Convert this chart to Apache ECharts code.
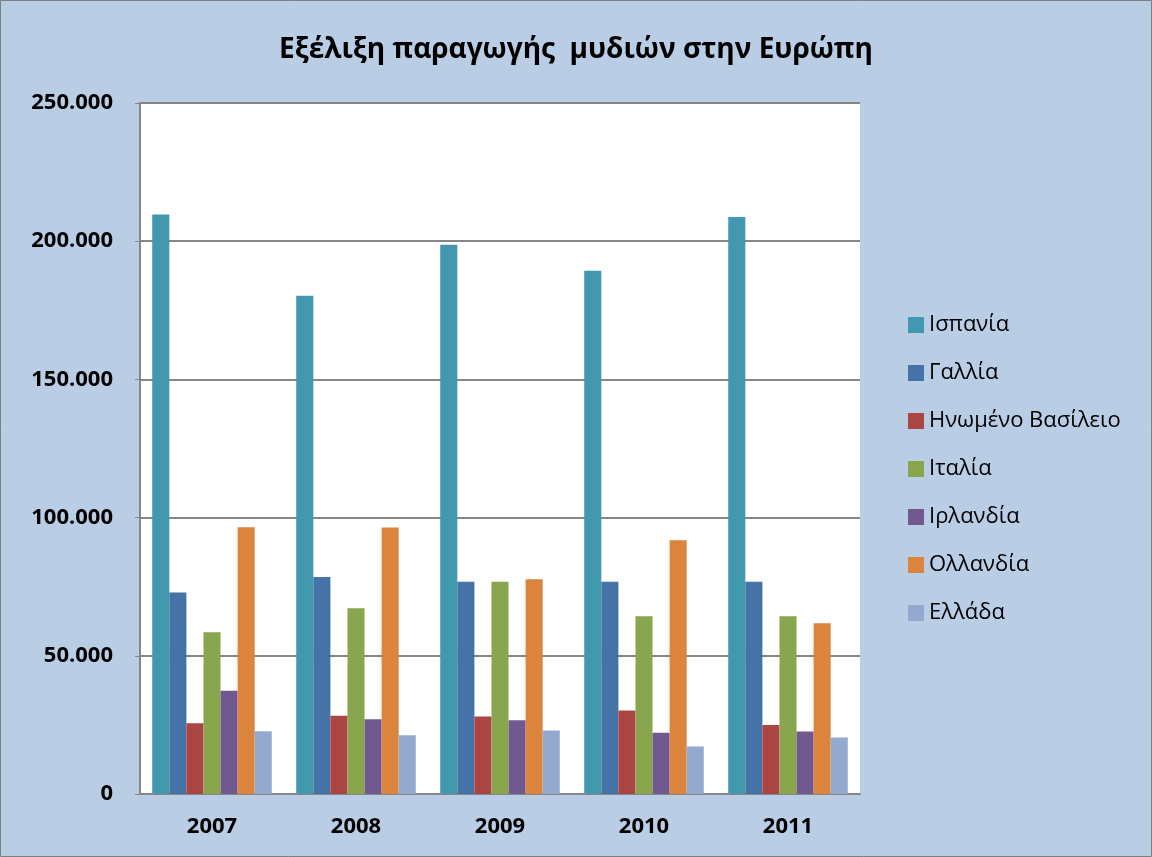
<!DOCTYPE html>
<html>
<head>
<meta charset="utf-8">
<script src="https://cdn.jsdelivr.net/npm/echarts@6/dist/echarts.min.js"></script>
<style>
  html, body { margin: 0; padding: 0; background: #b9cde5; }
  #chart { width: 1152px; height: 857px; }
</style>
</head>
<body>
<div id="chart"></div>
<script>
const years = ['2007', '2008', '2009', '2010', '2011'];
const countries = ['Ισπανία', 'Γαλλία', 'Ηνωμένο Βασίλειο', 'Ιταλία', 'Ιρλανδία', 'Ολλανδία', 'Ελλάδα'];
const spain = [209700, 180300, 198700, 189300, 208800];
const france = [72900, 78500, 76800, 76800, 76800];
const uk = [25600, 28300, 28000, 30200, 25000];
const italy = [58500, 67200, 76800, 64300, 64300];
const ireland = [37400, 27000, 26700, 22200, 22600];
const netherlands = [96500, 96400, 77700, 91800, 61800];
const greece = [22700, 21300, 23000, 17200, 20400];
const colors = ['#4198af', '#4573a7', '#aa4644', '#89a54e', '#71588f', '#db843d', '#93a9cf'];

document.addEventListener('DOMContentLoaded', () => {
    const chart = echarts.init(document.getElementById('chart'));
    const seriesData = [spain, france, uk, italy, ireland, netherlands, greece];
    const font = '"Open Sans", sans-serif';

    // greek style thousands: 250.000
    const fmt = (v) => v === 0 ? '0' : v.toString().replace(/\B(?=(\d{3})+(?!\d))/g, '.');

    const option = {
        backgroundColor: '#b9cde5',
        color: colors,
        textStyle: { fontFamily: font },
        title: {
            text: 'Εξέλιξη παραγωγής  μυδιών στην Ευρώπη',
            left: 'center',
            top: 31,
            textStyle: { fontSize: 28, fontWeight: 'bold', color: '#000', fontFamily: font }
        },
        legend: {
            orient: 'vertical',
            left: 903,
            top: 308,
            itemWidth: 16,
            itemHeight: 16,
            itemGap: 24,
            icon: 'rect',
            textStyle: { fontSize: 22, color: '#000', lineHeight: 24, fontFamily: font }
        },
        grid: {
            left: 140,
            right: 292,
            top: 103,
            bottom: 63,
            show: true,
            backgroundColor: '#ffffff',
            borderWidth: 0
        },
        xAxis: {
            type: 'category',
            data: years,
            axisLine: { lineStyle: { color: '#868686', width: 2 } },
            axisTick: { show: false },
            axisLabel: { fontSize: 22, fontWeight: 'bold', color: '#000', margin: 22 }
        },
        yAxis: {
            type: 'value',
            min: 0,
            max: 250000,
            interval: 50000,
            axisLine: { show: true, lineStyle: { color: '#868686', width: 2 } },
            axisTick: { show: true, length: 5, lineStyle: { color: '#868686' } },
            splitLine: { lineStyle: { color: '#868686', width: 2 } },
            axisLabel: { fontSize: 22, fontWeight: 'bold', color: '#000', margin: 27, formatter: fmt }
        },
        series: countries.map((name, i) => ({
            name,
            type: 'bar',
            data: seriesData[i],
            barGap: '0%',
            barCategoryGap: '17%',
            itemStyle: { color: colors[i] }
        })),
        graphic: [{
            type: 'rect',
            shape: { x: 0.5, y: 0.5, width: 1151, height: 856 },
            style: { fill: 'none', stroke: '#7f7f7f', lineWidth: 1 },
            silent: true
        }]
    };

    chart.setOption(option);
    window.addEventListener('resize', () => chart.resize());
});
</script>
</body>
</html>
